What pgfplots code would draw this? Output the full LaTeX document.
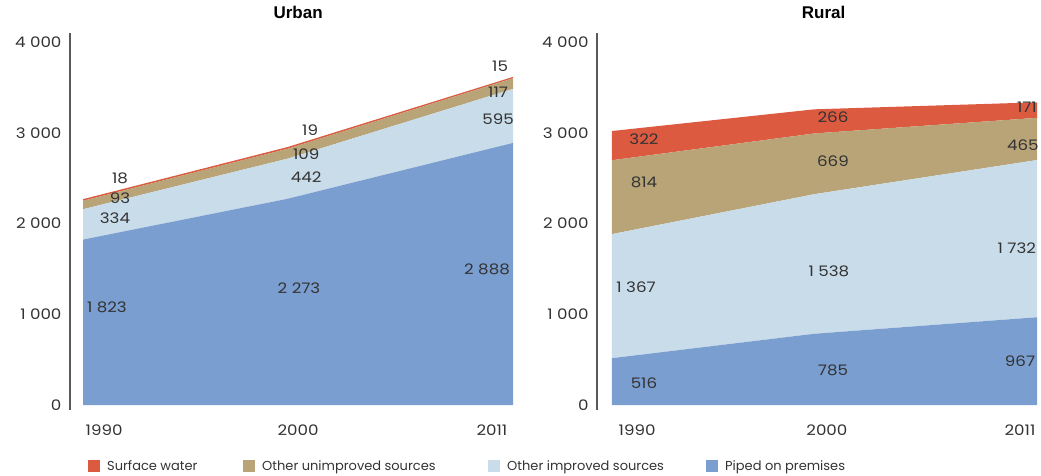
\documentclass[border=0pt]{standalone}
\usepackage{pgfplots}
\pgfplotsset{compat=1.18}
\usepackage{fontspec}
\setmainfont{Poppins}
\newfontfamily\numfont{Poppins}[FakeStretch=1.15]
\newfontfamily\titlefont{Liberation Sans}
\definecolor{cSurf}{HTML}{DC5A40}
\definecolor{cUnimp}{HTML}{B8A477}
\definecolor{cImp}{HTML}{C9DCEA}
\definecolor{cPiped}{HTML}{7A9ED0}
\definecolor{cTxt}{HTML}{333333}
\pgfplotsset{
  sqlegend/.style={legend image code/.code={\fill[##1] (0pt,-6pt) rectangle (12pt,6pt);}},
  labels/.style={draw=none, mark=none, stack plots=false, forget plot,
    nodes near coords, point meta=explicit symbolic,
    every node near coord/.style={anchor=center, inner sep=0pt, text=cTxt,
      font=\numfont\fontsize{14.5}{16}\selectfont}},
  panel/.style={
    scale only axis, height=377pt,
    ymin=-55, ymax=4099,
    axis lines=left, axis line style={-},
    x axis line style={draw=none},
    y axis line style={draw=black!65, line width=1.6pt},
    major tick length=0pt,
    ytick={0,1000,2000,3000,4000},
    yticklabels={0,1 000,2 000,3 000,4 000},
    yticklabel style={font=\numfont\fontsize{14.5}{16}\selectfont, text=cTxt, xshift=-5pt},
    xticklabels={1990,2000,2011},
    xticklabel style={font=\numfont\fontsize{14.5}{16}\selectfont, text=cTxt, anchor=center, yshift=-20pt},
    stack plots=y, clip=false,
    title style={font=\titlefont\bfseries\fontsize{17}{19}\selectfont, anchor=south, yshift=5pt},
  },
}
\begin{document}
\begin{tikzpicture}
\useasboundingbox (0,0) rectangle (1041pt,476pt);
% Urban
\begin{axis}[panel, at={(70pt,66pt)}, anchor=south west, width=443pt,
  xmin=1989.365, xmax=2011,
  xtick={1991.03,2000.5,2009.97},
  title={Urban}, title style={at={(0.515,1)}},
  sqlegend, reverse legend,
  legend style={at={(0.0406,-0.1485)}, anchor=west, legend columns=4, draw=none, fill=none,
    inner sep=0pt, font=\fontsize{13}{15}\selectfont,
    nodes={inner xsep=0pt, text=cTxt}},
]
\addplot[fill=cPiped, draw=none] coordinates {(1990,1823) (2000,2273) (2011,2888)} \closedcycle;
\addlegendentry{\hspace{7pt}Piped on premises}
\addplot[fill=cImp, draw=none] coordinates {(1990,334) (2000,442) (2011,595)} \closedcycle;
\addlegendentry{\hspace{7pt}\makebox[199pt][l]{Other improved sources}}
\addplot[fill=cUnimp, draw=none] coordinates {(1990,93) (2000,109) (2011,117)} \closedcycle;
\addlegendentry{\hspace{7pt}\makebox[226pt][l]{Other unimproved sources}}
\addplot[fill=cSurf, draw=none] coordinates {(1990,18) (2000,19) (2011,15)} \closedcycle;
\addlegendentry{\hspace{7pt}\makebox[136pt][l]{Surface water}}
\addplot[labels] table[col sep=comma, meta=t] {
x,y,t
1991.81,2500,18
1991.81,2281,93
1991.56,2060,334
1991.17,1080,1 823
2001.09,3030,19
2000.9,2766,109
2000.9,2512,442
2000.55,1289,2 273
2010.37,3736,15
2010.27,3449,117
2010.27,3152,595
2009.73,1499,2 888
};
\end{axis}
% Rural
\begin{axis}[panel, at={(597pt,66pt)}, anchor=south west, width=440pt,
  xmin=1989.26, xmax=2011,
  xtick={1991.24,2000.62,2010.16},
  title={Rural}, title style={at={(0.515,1)}},
]
\addplot[fill=cPiped, draw=none] coordinates {(1990,516) (2000,785) (2011,967)} \closedcycle;
\addplot[fill=cImp, draw=none] coordinates {(1990,1367) (2000,1538) (2011,1732)} \closedcycle;
\addplot[fill=cUnimp, draw=none] coordinates {(1990,814) (2000,669) (2011,465)} \closedcycle;
\addplot[fill=cSurf, draw=none] coordinates {(1990,322) (2000,266) (2011,171)} \closedcycle;
\addplot[labels] table[col sep=comma, meta=t] {
x,y,t
1991.58,2931,322
1991.58,2457,814
1991.19,1300,1 367
1991.58,242,516
2000.92,3174,266
2000.92,2689,669
2000.72,1477,1 538
2000.92,386,785
2010.5,3284,171
2010.3,2865,465
2010.0,1730,1 732
2010.16,485,967
};
\end{axis}
\end{tikzpicture}
\end{document}
